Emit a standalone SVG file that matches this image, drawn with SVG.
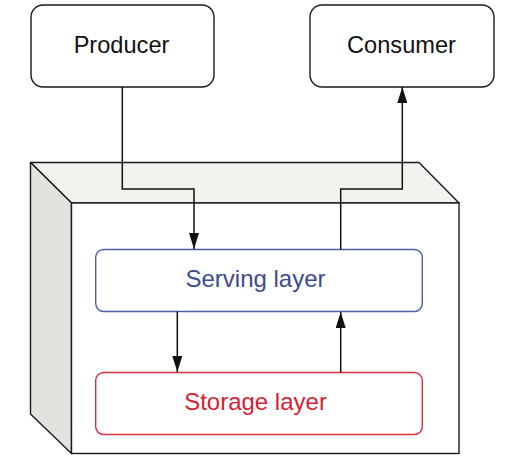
<svg xmlns="http://www.w3.org/2000/svg" width="518" height="466" viewBox="0 0 518 466">
<style>
.box{fill:#fff;stroke:#1a1a1a;stroke-width:1.4}
.t{font-family:"Liberation Sans",Arial,sans-serif;font-size:23.6px;text-anchor:middle}
.edge{fill:none;stroke:#111;stroke-width:1.5}
</style>
<defs>
<marker id="ah" viewBox="0 0 10 16" refX="10" refY="5" markerWidth="16" markerHeight="10" markerUnits="userSpaceOnUse" orient="auto">
<path d="M0,0 L10,5 L0,10 Z" fill="#111"/>
</marker>
<marker id="ah2" viewBox="0 0 16 10" refX="16" refY="5" markerWidth="16" markerHeight="10" markerUnits="userSpaceOnUse" orient="auto">
<path d="M0,0 L16,5 L0,10 Z" fill="#111"/>
</marker>
</defs>
<g id="container">
<polygon points="30.5,162.5 419,162.5 459,203 71.5,203" fill="#f2f2ef" stroke="#1a1a1a" stroke-width="1.4" stroke-linejoin="round"/>
<polygon points="30.5,162.5 71.5,203 71.5,453.5 30.5,414" fill="#e2e3de" stroke="#1a1a1a" stroke-width="1.4" stroke-linejoin="round"/>
<rect x="71.5" y="203" width="387.5" height="250.5" fill="#fff" stroke="#1a1a1a" stroke-width="1.4"/>
</g>
<g id="producer">
<rect class="box" x="31" y="5" width="183" height="82" rx="12"/>
<text class="t" x="121.5" y="53" fill="#111">Producer</text>
</g>
<g id="consumer">
<rect class="box" x="310" y="5" width="184" height="82" rx="12"/>
<text class="t" x="401.5" y="53" fill="#111">Consumer</text>
</g>
<g id="serving">
<rect x="95.7" y="249.5" width="326.6" height="62" rx="8" fill="#fff" stroke="#4a5ea6" stroke-width="1.4"/>
<text class="t" x="255.5" y="287" fill="#3b4a90" style="font-size:24px">Serving layer</text>
</g>
<g id="storage">
<rect x="95.7" y="372.5" width="326.6" height="62" rx="8" fill="#fff" stroke="#d9303c" stroke-width="1.4"/>
<text class="t" x="255.5" y="410.3" fill="#d42231" style="font-size:24px">Storage layer</text>
</g>
<g id="connectors">
<path class="edge" d="M122.3,87 V189 H194 V249" marker-end="url(#ah2)"/>
<path class="edge" d="M340.7,249.5 V189 H402.3 V87" marker-end="url(#ah2)"/>
<path class="edge" d="M177.3,311.5 V372" marker-end="url(#ah2)"/>
<path class="edge" d="M340.7,372.5 V312" marker-end="url(#ah2)"/>
</g>
</svg>
